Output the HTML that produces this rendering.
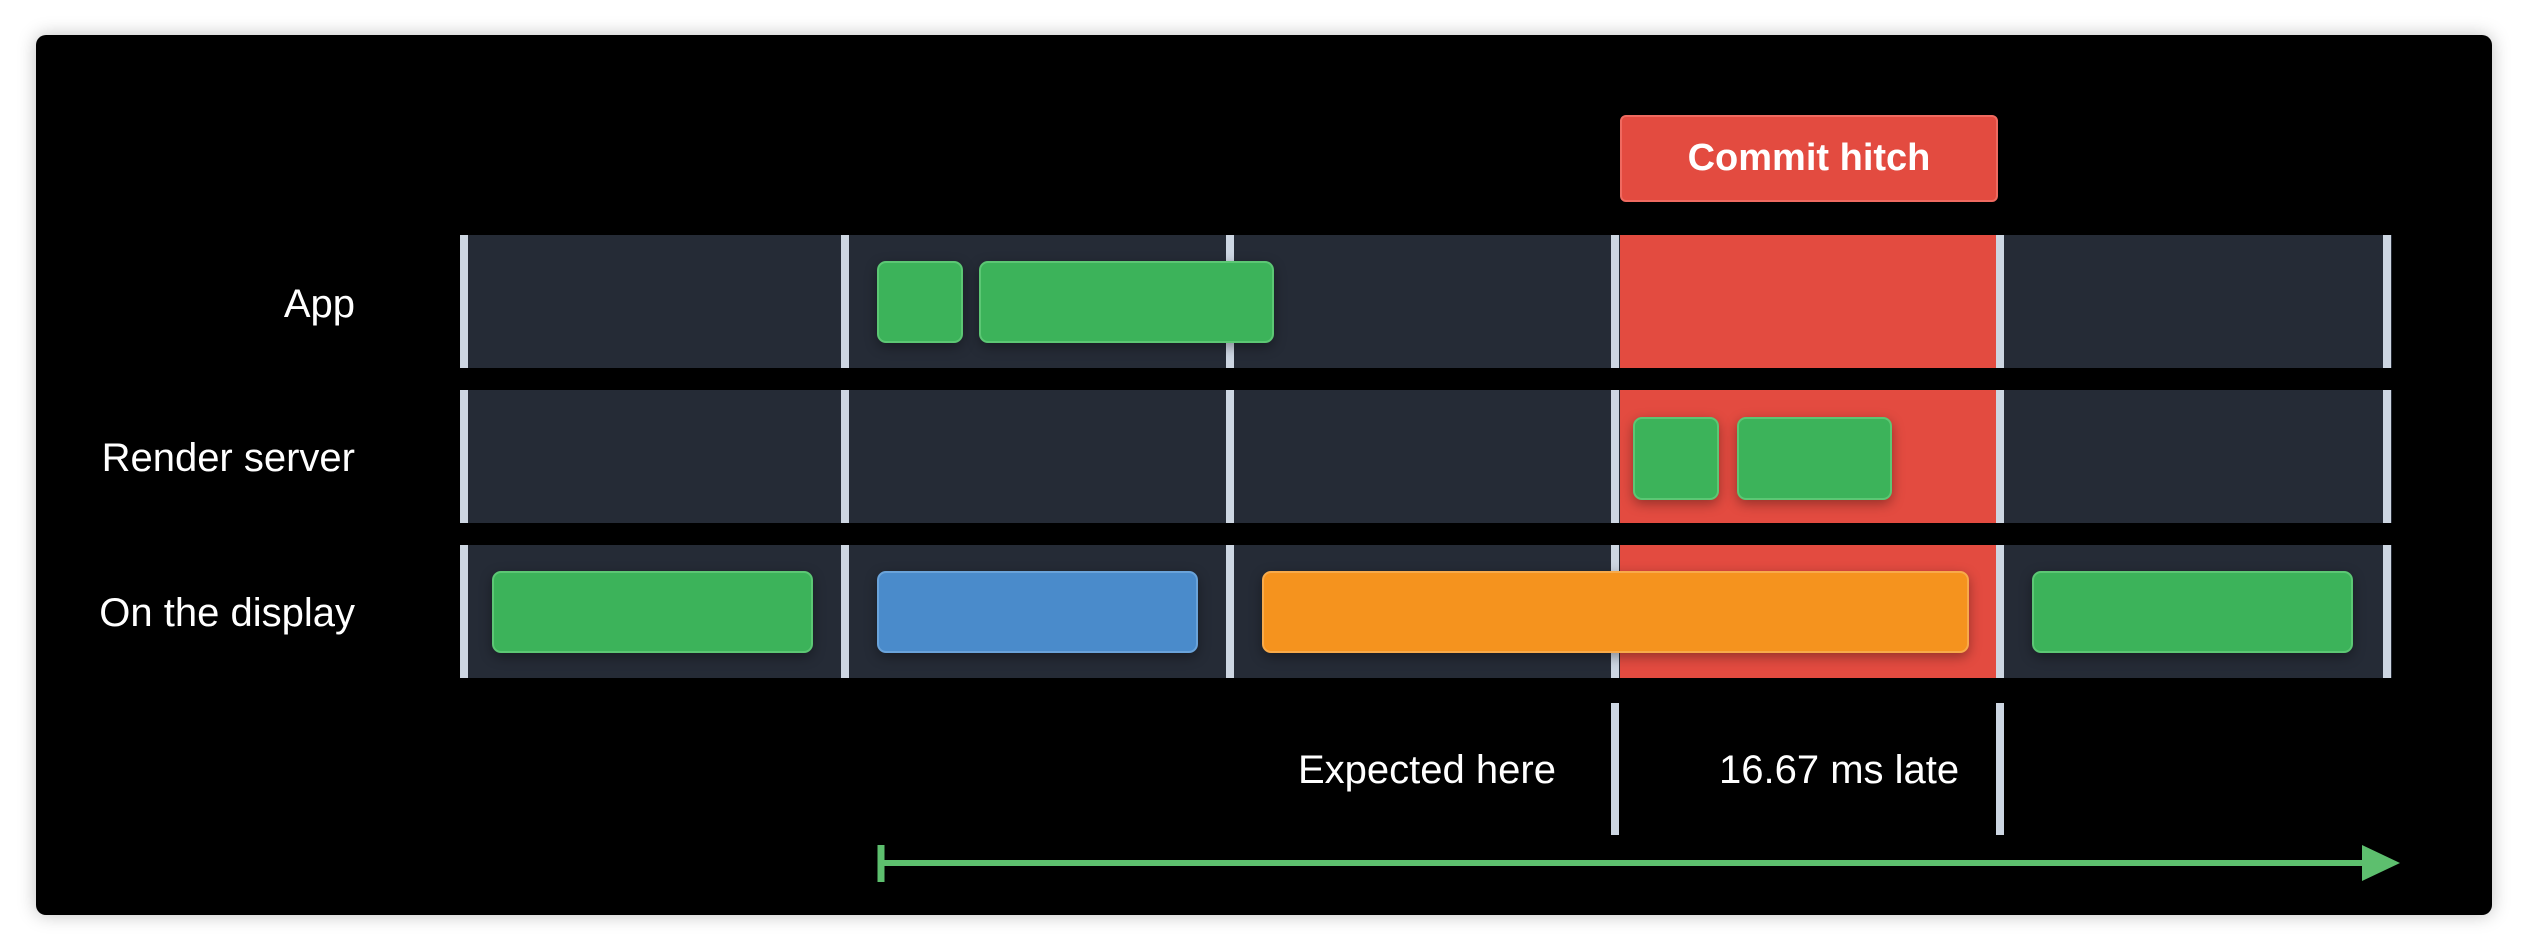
<!DOCTYPE html>
<html><head><style>
*{margin:0;padding:0;box-sizing:border-box}
body{width:2528px;height:952px;background:#fff;position:relative;overflow:hidden;font-family:"Liberation Sans",sans-serif}
.panel{position:absolute;left:36px;top:35px;width:2456px;height:880px;background:#000;border-radius:10px;box-shadow:0 0 18px rgba(0,0,0,.25)}
.a{position:absolute}
.row{position:absolute;left:460px;width:1932px;background:#252b36}
.vl{position:absolute;width:8px;background:#cdd6e2}
.red{background:#e34b40}
.b{position:absolute;border-radius:9px;box-shadow:0 4px 12px rgba(0,0,0,.35)}
.g{background:#3cb35a;border:2px solid #5cc774}
.bl{background:#4a8bcb;border:2px solid #6aa3da}
.o{background:#f5931e;border:2px solid #f8aa4a}
.lab{position:absolute;color:#fff;font-size:40px;line-height:40px;white-space:nowrap}
</style></head><body>
<div class="panel"></div>
<!-- rows -->
<div class="row" style="top:235px;height:133px"></div>
<div class="row" style="top:390px;height:133px"></div>
<div class="row" style="top:545px;height:133px"></div>
<!-- red hitch column -->
<div class="a red" style="left:1620px;top:235px;width:376px;height:133px"></div>
<div class="a red" style="left:1620px;top:390px;width:376px;height:133px"></div>
<div class="a red" style="left:1620px;top:545px;width:376px;height:133px"></div>
<!-- grid lines -->
<div class="vl" style="left:460px;top:235px;height:133px"></div>
<div class="vl" style="left:460px;top:390px;height:133px"></div>
<div class="vl" style="left:460px;top:545px;height:133px"></div>
<div class="vl" style="left:841px;top:235px;height:133px"></div>
<div class="vl" style="left:841px;top:390px;height:133px"></div>
<div class="vl" style="left:841px;top:545px;height:133px"></div>
<div class="vl" style="left:1226px;top:235px;height:133px"></div>
<div class="vl" style="left:1226px;top:390px;height:133px"></div>
<div class="vl" style="left:1226px;top:545px;height:133px"></div>
<div class="vl" style="left:1611px;top:235px;height:133px"></div>
<div class="vl" style="left:1611px;top:390px;height:133px"></div>
<div class="vl" style="left:1611px;top:545px;height:133px"></div>
<div class="vl" style="left:1996px;top:235px;height:133px"></div>
<div class="vl" style="left:1996px;top:390px;height:133px"></div>
<div class="vl" style="left:1996px;top:545px;height:133px"></div>
<div class="vl" style="left:2383px;top:235px;height:133px"></div>
<div class="vl" style="left:2383px;top:390px;height:133px"></div>
<div class="vl" style="left:2383px;top:545px;height:133px"></div>
<!-- commit hitch -->
<div class="a" style="left:1620px;top:115px;width:378px;height:87px;background:#e34b40;border:2px solid #ef6a60;border-radius:6px;color:#fff;font-size:38px;font-weight:bold;text-align:center;line-height:83px">Commit hitch</div>
<!-- boxes -->
<div class="b g" style="left:877px;top:261px;width:86px;height:82px"></div>
<div class="b g" style="left:979px;top:261px;width:295px;height:82px"></div>
<div class="b g" style="left:1633px;top:417px;width:86px;height:83px"></div>
<div class="b g" style="left:1737px;top:417px;width:155px;height:83px"></div>
<div class="b g" style="left:492px;top:571px;width:321px;height:82px"></div>
<div class="b bl" style="left:877px;top:571px;width:321px;height:82px"></div>
<div class="b o" style="left:1262px;top:571px;width:707px;height:82px"></div>
<div class="b g" style="left:2032px;top:571px;width:321px;height:82px"></div>
<!-- labels -->
<div class="lab" style="right:2173px;top:284px">App</div>
<div class="lab" style="right:2173px;top:438px">Render server</div>
<div class="lab" style="right:2173px;top:593px">On the display</div>
<!-- bottom ticks -->
<div class="vl" style="left:1611px;top:703px;height:132px"></div>
<div class="vl" style="left:1996px;top:703px;height:132px"></div>
<div class="lab" style="left:1298px;top:750px">Expected here</div>
<div class="lab" style="left:1719px;top:750px">16.67 ms late</div>
<!-- arrow -->
<svg class="a" style="left:0;top:0" width="2528" height="952">
<line x1="881" y1="863" x2="2368" y2="863" stroke="#5dbf6e" stroke-width="6"/>
<line x1="881" y1="845" x2="881" y2="882" stroke="#5dbf6e" stroke-width="7"/>
<polygon points="2362,845 2400,863 2362,881" fill="#5dbf6e"/>
</svg>
</body></html>
